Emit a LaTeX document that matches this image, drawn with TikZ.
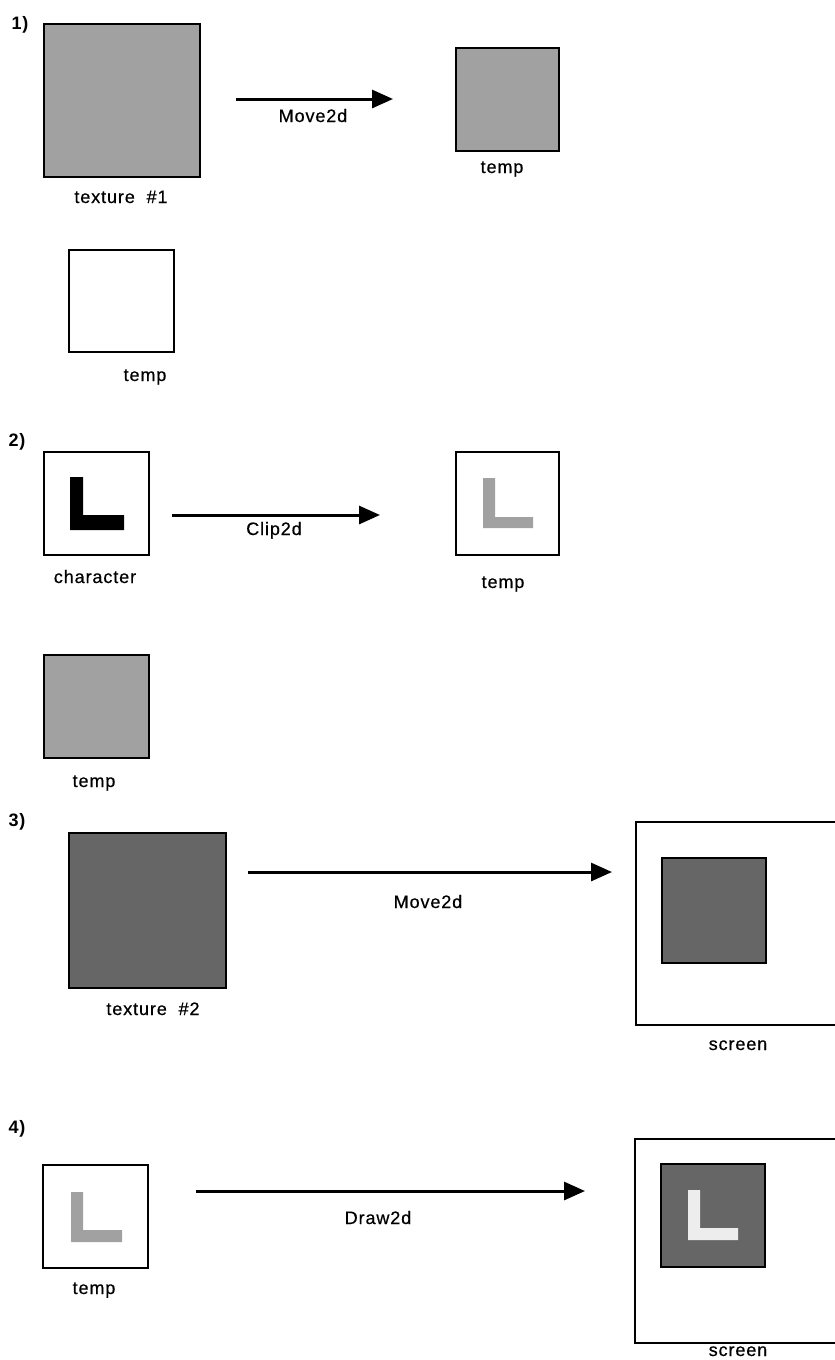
\documentclass[tikz,border=0pt]{standalone}
\usepackage{fontspec}
\setmainfont{Liberation Sans}[LetterSpace=5]
\newfontfamily\lblfont{Liberation Sans}[LetterSpace=5, FakeBold=0.5]
\usetikzlibrary{arrows.meta}
\definecolor{lighttex}{gray}{0.63}
\definecolor{darktex}{gray}{0.40}
\definecolor{paletex}{gray}{0.93}
\begin{document}
\begin{tikzpicture}[x=1pt,y=-1pt,
  lbl/.style={font=\lblfont\fontsize{18}{21}\selectfont, inner sep=0pt, anchor=base},
  num/.style={font=\fontsize{18}{21}\selectfont\bfseries, inner sep=0pt, anchor=base},
  plainbox/.style={draw=black, line width=2pt, fill=white, inner sep=0pt},
  texbox/.style={draw=black, line width=2.6pt, inner sep=0pt},
  lighttexture/.style={fill=lighttex},
  darktexture/.style={fill=darktex},
  flow/.style={line width=3pt, -{Triangle[length=21pt,width=18pt]}},
]
\path[use as bounding box] (0,0) rectangle (835,1360);
\clip (0,0) rectangle (835,1360);
\fill[white] (0,0) rectangle (835,1360);

% ---------- 1) ----------
\node[num] (n1) at (20,29) {1)};
\node[texbox, lighttexture, minimum width=156pt, minimum height=153pt] (tex1) at (122,100.5) {};
\node[lbl] (tex1l) at (121,203) {texture\ \ \#1};
\coordinate (a1s) at (236,99);
\coordinate (a1e) at (393,99);
\draw[flow] (a1s) -- (a1e);
\node[lbl] (m1) at (313,122) {Move2d};
\node[texbox, lighttexture, minimum width=103pt, minimum height=103pt] (t1) at (507.5,99.5) {};
\node[lbl] (t1l) at (502,173) {temp};
\node[plainbox, minimum width=105pt, minimum height=102pt] (t2) at (121.5,301) {};
\node[lbl] (t2l) at (145,381) {temp};

% ---------- 2) ----------
\node[num] (n2) at (17,446) {2)};
\node[plainbox, minimum width=105pt, minimum height=103pt] (chr) at (96.5,503.5) {};
\fill[black] (70,477) -- (83,477) -- (83,515) -- (124,515) -- (124,530) -- (70,530) -- cycle;
\node[lbl] (chrl) at (95,583) {character};
\coordinate (a2s) at (172,515);
\coordinate (a2e) at (380,515);
\draw[flow] (a2s) -- (a2e);
\node[lbl] (c2) at (274,535) {Clip2d};
\node[plainbox, minimum width=103pt, minimum height=103pt] (t3) at (507.5,503.5) {};
\fill[lighttex] (483,478) -- (495,478) -- (495,517) -- (533,517) -- (533,528) -- (483,528) -- cycle;
\node[lbl] (t3l) at (503,588) {temp};
\node[texbox, lighttexture, minimum width=105pt, minimum height=103pt] (t4) at (96.5,706.5) {};
\node[lbl] (t4l) at (94,787) {temp};

% ---------- 3) ----------
\node[num] (n3) at (17,826) {3)};
\node[texbox, darktexture, minimum width=157pt, minimum height=155pt] (tex2) at (147.5,910.5) {};
\node[lbl] (tex2l) at (153,1015) {texture\ \ \#2};
\coordinate (a3s) at (248,872);
\coordinate (a3e) at (612,872);
\draw[flow] (a3s) -- (a3e);
\node[lbl] (m3) at (428,908) {Move2d};
\node[plainbox, minimum width=214pt, minimum height=203pt] (scr1) at (743,923.5) {};
\node[texbox, darktexture, minimum width=104pt, minimum height=105pt] (in1) at (714,910.5) {};
\node[lbl] (scr1l) at (738,1050) {screen};

% ---------- 4) ----------
\node[num] (n4) at (17,1133) {4)};
\node[plainbox, minimum width=105pt, minimum height=103pt] (t5) at (95.5,1216.5) {};
\fill[lighttex] (71,1192) -- (83,1192) -- (83,1230) -- (122,1230) -- (122,1242) -- (71,1242) -- cycle;
\node[lbl] (t5l) at (94,1294) {temp};
\coordinate (a4s) at (196,1191);
\coordinate (a4e) at (585,1191);
\draw[flow] (a4s) -- (a4e);
\node[lbl] (d4) at (378,1224) {Draw2d};
\node[plainbox, minimum width=215pt, minimum height=204pt] (scr2) at (742.5,1241) {};
\node[texbox, darktexture, minimum width=104pt, minimum height=103pt] (in2) at (713,1215.5) {};
\fill[paletex] (688,1190) -- (700,1190) -- (700,1228) -- (738,1228) -- (738,1240) -- (688,1240) -- cycle;
\node[lbl] (scr2l) at (738,1356) {screen};
\end{tikzpicture}
\end{document}
